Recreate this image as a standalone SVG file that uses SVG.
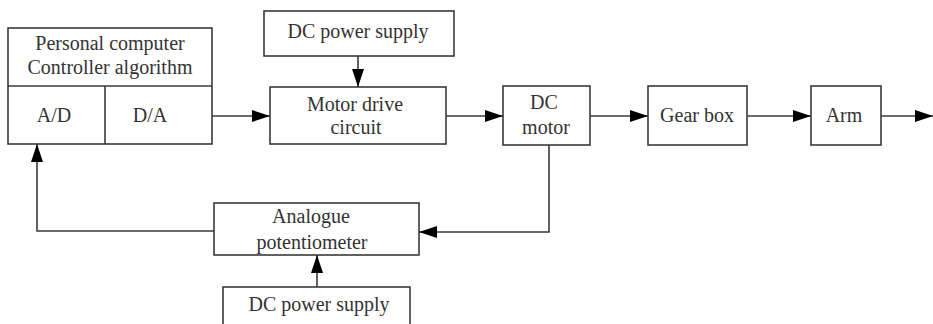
<svg xmlns="http://www.w3.org/2000/svg" width="933" height="324" viewBox="0 0 933 324">
<style>
.box{fill:#fff;stroke:#3a3a3a;stroke-width:1.6}
.ln{fill:none;stroke:#3a3a3a;stroke-width:1.6}
text{font-family:"Liberation Serif","Times New Roman",serif;font-size:20px;fill:#333;text-anchor:middle}
</style>
<defs>
<marker id="ah" markerUnits="userSpaceOnUse" markerWidth="18" markerHeight="12" refX="18" refY="6" orient="auto">
<path d="M0,0 L18,6 L0,12 z" fill="#000"/>
</marker>
</defs>
<rect width="933" height="324" fill="#fff"/>
<g id="pc">
<rect class="box" x="8" y="28" width="204" height="116"/>
<line class="ln" x1="8" y1="86" x2="212" y2="86"/>
<line class="ln" x1="105" y1="86" x2="105" y2="144"/>
<text x="110" y="50">Personal computer</text>
<text x="110" y="74">Controller algorithm</text>
<text x="54" y="122">A/D</text>
<text x="150" y="122">D/A</text>
</g>
<g id="dc-top">
<rect class="box" x="264" y="11" width="190" height="45"/>
<text x="358" y="38">DC power supply</text>
</g>
<g id="motor-drive">
<rect class="box" x="270" y="87" width="176" height="57"/>
<text x="355" y="111">Motor drive</text>
<text x="356" y="134">circuit</text>
</g>
<g id="dc-motor">
<rect class="box" x="503" y="86" width="87" height="59"/>
<text x="544" y="109">DC</text>
<text x="546" y="134">motor</text>
</g>
<g id="gear-box">
<rect class="box" x="648" y="86" width="99" height="59"/>
<text x="697" y="122">Gear box</text>
</g>
<g id="arm">
<rect class="box" x="811" y="86" width="70" height="59"/>
<text x="844" y="122">Arm</text>
</g>
<g id="analogue">
<rect class="box" x="214" y="203" width="205" height="52"/>
<text x="311" y="223">Analogue</text>
<text x="312" y="249">potentiometer</text>
</g>
<g id="dc-bottom">
<rect class="box" x="223" y="287" width="187" height="50"/>
<text x="319" y="311">DC power supply</text>
</g>
<g id="connectors">
<path class="ln" d="M212,116 H270" marker-end="url(#ah)"/>
<path class="ln" d="M358,56 V87" marker-end="url(#ah)"/>
<path class="ln" d="M446,116 H503" marker-end="url(#ah)"/>
<path class="ln" d="M590,116 H648" marker-end="url(#ah)"/>
<path class="ln" d="M747,116 H811" marker-end="url(#ah)"/>
<path class="ln" d="M881,116 H933" marker-end="url(#ah)"/>
<path class="ln" d="M549,145 V232 H419" marker-end="url(#ah)"/>
<path class="ln" d="M214,231 H37 V144" marker-end="url(#ah)"/>
<path class="ln" d="M317,287 V255" marker-end="url(#ah)"/>
</g>
</svg>
